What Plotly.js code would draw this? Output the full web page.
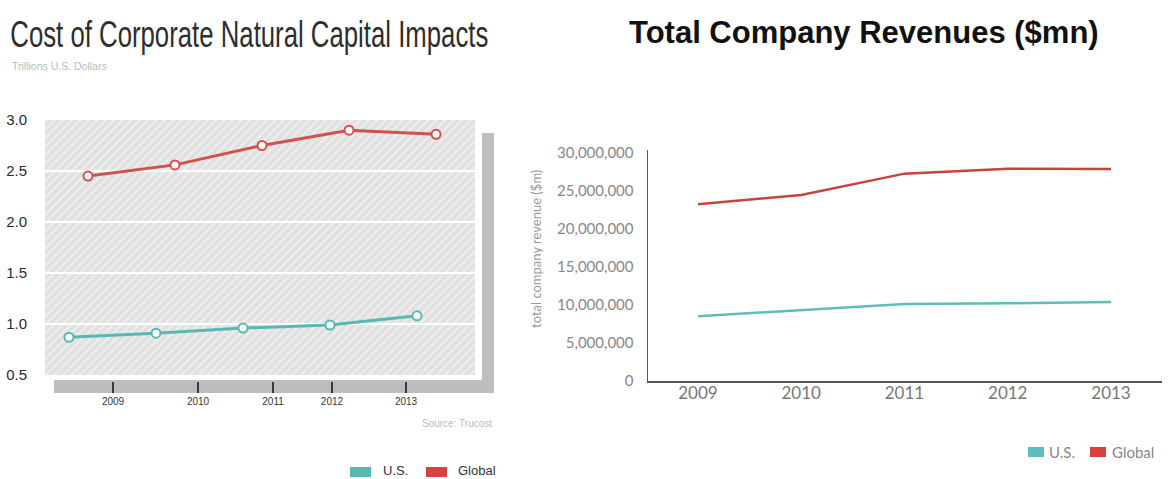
<!DOCTYPE html>
<html>
<head>
<meta charset="utf-8">
<script src="https://cdn.plot.ly/plotly-3.0.1.min.js"></script>
<style>
  html, body { margin: 0; padding: 0; background: #ffffff; }
  #chart { width: 1170px; height: 479px; }
  .tall-title {
    transform-box: fill-box;
    transform-origin: center;
    transform: scaleY(1.45);
  }
</style>
</head>
<body>
<div id="chart"></div>
<script>
// ---------------- DATA ----------------
// Left panel: Cost of Corporate Natural Capital Impacts (trillions USD)
const impactYears = [2009, 2010, 2011, 2012, 2013];
const impactUS = [0.87, 0.91, 0.96, 0.99, 1.08];
const impactGlobal = [2.45, 2.56, 2.75, 2.90, 2.86];
const impactYTicks = [0.5, 1.0, 1.5, 2.0, 2.5, 3.0];
const impactXTickLabels = ['2009', '2010', '2011', '2012', '2013'];

// Right panel: Total Company Revenues ($mn)
const revenueYears = [2009, 2010, 2011, 2012, 2013];
const revenueUS = [8500000, 9300000, 10100000, 10200000, 10350000];
const revenueGlobal = [23200000, 24400000, 27200000, 27850000, 27800000];
const revenueYTicks = [0, 5000000, 10000000, 15000000, 20000000, 25000000, 30000000];

const seriesNames = ['U.S.', 'Global'];

// ---------------- LAYOUT HELPERS ----------------
const W = 1170, H = 479;
const px = x => x / W;
const py = y => 1 - y / H;

const NARROW = '"Liberation Sans", Arial, sans-serif';
const GOTHIC = 'Lato, "Open Sans", sans-serif';
const ARIAL = '"Liberation Sans", Arial, sans-serif';

const tealL = '#58b9b3', redL = '#d2504e';
const tealR = '#5dbdb8', redR = '#c2453f';

// hatch background (as inline svg image)
const hatchSvg = "<svg xmlns='http://www.w3.org/2000/svg' width='430' height='255'>" +
  "<defs><pattern id='p' width='6' height='6' patternUnits='userSpaceOnUse' patternTransform='rotate(45)'>" +
  "<rect width='6' height='6' fill='#e1e1e1'/>" +
  "<line x1='1' y1='0' x2='1' y2='6' stroke='#eeeeee' stroke-width='2'/></pattern></defs>" +
  "<rect width='430' height='255' fill='url(#p)'/></svg>";
const hatchURI = 'data:image/svg+xml;charset=utf-8,' + encodeURIComponent(hatchSvg);

// ---------------- TRACES ----------------
const traces = [
  {
    x: impactYears, y: impactUS, name: seriesNames[0], xaxis: 'x', yaxis: 'y',
    type: 'scatter', mode: 'lines+markers', showlegend: false,
    line: {color: tealL, width: 3},
    marker: {symbol: 'circle', size: 9, color: '#ffffff', line: {color: tealL, width: 2}}
  },
  {
    x: impactYears, y: impactGlobal, name: seriesNames[1], xaxis: 'x2', yaxis: 'y',
    type: 'scatter', mode: 'lines+markers', showlegend: false,
    line: {color: redL, width: 3},
    marker: {symbol: 'circle', size: 9, color: '#ffffff', line: {color: redL, width: 2}}
  },
  {
    x: revenueYears, y: revenueUS, name: seriesNames[0], xaxis: 'x3', yaxis: 'y2',
    type: 'scatter', mode: 'lines', showlegend: false,
    line: {color: tealR, width: 2.5}
  },
  {
    x: revenueYears, y: revenueGlobal, name: seriesNames[1], xaxis: 'x3', yaxis: 'y2',
    type: 'scatter', mode: 'lines', showlegend: false,
    line: {color: redR, width: 2.5}
  }
];

// ---------------- LAYOUT ----------------
const leftDomX = [px(45), px(475)];
const layout = {
  width: W, height: H,
  margin: {l: 0, r: 0, t: 0, b: 0, autoexpand: false},
  paper_bgcolor: '#ffffff',
  plot_bgcolor: 'rgba(0,0,0,0)',
  showlegend: false,
  // Left: U.S. series axis (also carries the floor ticks)
  xaxis: {
    domain: leftDomX, range: [2008.724, 2013.667],
    anchor: 'free', position: py(381),
    showgrid: false, zeroline: false, showline: false,
    ticks: 'outside', ticklen: 11, tickwidth: 2, tickcolor: '#3a3a3a',
    tickvals: [2009.506, 2010.483, 2011.345, 2012.023, 2012.874],
    ticktext: impactXTickLabels,
    tickfont: {family: NARROW, size: 10, color: '#333'},
    fixedrange: true
  },
  // Left: Global series axis (offset markers)
  xaxis2: {
    domain: leftDomX, range: [2008.506, 2013.448],
    overlaying: 'x', anchor: 'y', visible: false, fixedrange: true
  },
  yaxis: {
    domain: [py(375), py(120)], range: [0.5, 3.0], anchor: 'x',
    tickvals: impactYTicks, tickformat: '.1f',
    showgrid: true, gridcolor: '#ffffff', gridwidth: 2,
    zeroline: false, showline: false, ticks: '',
    ticklabelstandoff: 17,
    tickfont: {family: NARROW, size: 15, color: '#2b2b2b'},
    fixedrange: true
  },
  // Right panel
  xaxis3: {
    domain: [px(648), px(1162)], range: [2008.516, 2013.494], anchor: 'y2',
    tickvals: revenueYears, ticktext: revenueYears.map(String),
    showgrid: false, zeroline: false,
    showline: true, linecolor: '#555', linewidth: 1.5, ticks: '',
    ticklabelstandoff: -4,
    tickfont: {family: GOTHIC, size: 17, color: '#777'},
    fixedrange: true
  },
  yaxis2: {
    domain: [py(381), py(150)], range: [0, 30300000], anchor: 'x3',
    tickvals: revenueYTicks, tickformat: ',d',
    showgrid: false, zeroline: false,
    showline: true, linecolor: '#555', linewidth: 1.5, ticks: '',
    ticklabelstandoff: 10,
    tickfont: {family: GOTHIC, size: 15, color: '#888'},
    fixedrange: true
  },
  images: [{
    source: hatchURI, xref: 'paper', yref: 'paper',
    x: px(45), y: py(120), sizex: 430 / W, sizey: 255 / H,
    xanchor: 'left', yanchor: 'top', sizing: 'stretch', layer: 'below'
  }],
  shapes: [
    // 3D shadow: floor and right wall
    {type: 'rect', xref: 'paper', yref: 'paper', x0: px(54), x1: px(494), y0: py(393), y1: py(380),
     fillcolor: '#bdbdbd', line: {width: 0}, layer: 'below'},
    {type: 'rect', xref: 'paper', yref: 'paper', x0: px(482), x1: px(494), y0: py(393), y1: py(133),
     fillcolor: '#bdbdbd', line: {width: 0}, layer: 'below'},
    // left legend swatches
    {type: 'rect', xref: 'paper', yref: 'paper', x0: px(350), x1: px(371), y0: py(477), y1: py(467),
     fillcolor: tealL, line: {width: 0}},
    {type: 'rect', xref: 'paper', yref: 'paper', x0: px(426), x1: px(447), y0: py(477), y1: py(467),
     fillcolor: '#d9413f', line: {width: 0}},
    // right legend swatches
    {type: 'rect', xref: 'paper', yref: 'paper', x0: px(1028), x1: px(1044), y0: py(457), y1: py(447),
     fillcolor: tealR, line: {width: 0}},
    {type: 'rect', xref: 'paper', yref: 'paper', x0: px(1090), x1: px(1106), y0: py(457), y1: py(447),
     fillcolor: '#d9413f', line: {width: 0}}
  ],
  annotations: [
    {text: 'Cost of Corporate Natural Capital Impacts', xref: 'paper', yref: 'paper',
     x: px(249), y: py(34), xanchor: 'center', yanchor: 'middle', showarrow: false,
     font: {family: NARROW, size: 26, color: '#2e2e2e'}},
    {text: 'Trillions U.S. Dollars', xref: 'paper', yref: 'paper',
     x: px(10), y: py(66), xanchor: 'left', yanchor: 'middle', showarrow: false,
     font: {family: NARROW, size: 10.5, color: '#bbbbbb'}},
    {text: 'Source: Trucost', xref: 'paper', yref: 'paper',
     x: px(494), y: py(423), xanchor: 'right', yanchor: 'middle', showarrow: false,
     font: {family: NARROW, size: 10, color: '#bbbbbb'}},
    {text: seriesNames[0], xref: 'paper', yref: 'paper',
     x: px(381), y: py(470), xanchor: 'left', yanchor: 'middle', showarrow: false,
     font: {family: NARROW, size: 13, color: '#333'}},
    {text: seriesNames[1], xref: 'paper', yref: 'paper',
     x: px(456), y: py(470), xanchor: 'left', yanchor: 'middle', showarrow: false,
     font: {family: NARROW, size: 13, color: '#333'}},
    {text: 'Total Company Revenues ($mn)', xref: 'paper', yref: 'paper',
     x: px(864), y: py(32), xanchor: 'center', yanchor: 'middle', showarrow: false,
     font: {family: ARIAL, size: 31, color: '#111', weight: 'bold'}},
    {text: 'total company revenue ($m)', xref: 'paper', yref: 'paper',
     x: px(536), y: py(249), xanchor: 'center', yanchor: 'middle', showarrow: false,
     textangle: -90,
     font: {family: GOTHIC, size: 13, color: '#999'}},
    {text: seriesNames[0], xref: 'paper', yref: 'paper',
     x: px(1047), y: py(452), xanchor: 'left', yanchor: 'middle', showarrow: false,
     font: {family: GOTHIC, size: 15, color: '#888'}},
    {text: seriesNames[1], xref: 'paper', yref: 'paper',
     x: px(1110), y: py(452), xanchor: 'left', yanchor: 'middle', showarrow: false,
     font: {family: GOTHIC, size: 15, color: '#888'}}
  ]
};

Plotly.newPlot('chart', traces, layout, {displayModeBar: false, staticPlot: true}).then(() => {
  // give the headline the tall, condensed look of the infographic
  document.querySelectorAll('.annotation-text').forEach(t => {
    if (t.textContent === 'Cost of Corporate Natural Capital Impacts') {
      t.setAttribute('textLength', '478');
      t.setAttribute('lengthAdjust', 'spacingAndGlyphs');
      t.classList.add('tall-title');
    }
  });
});
</script>
</body>
</html>
